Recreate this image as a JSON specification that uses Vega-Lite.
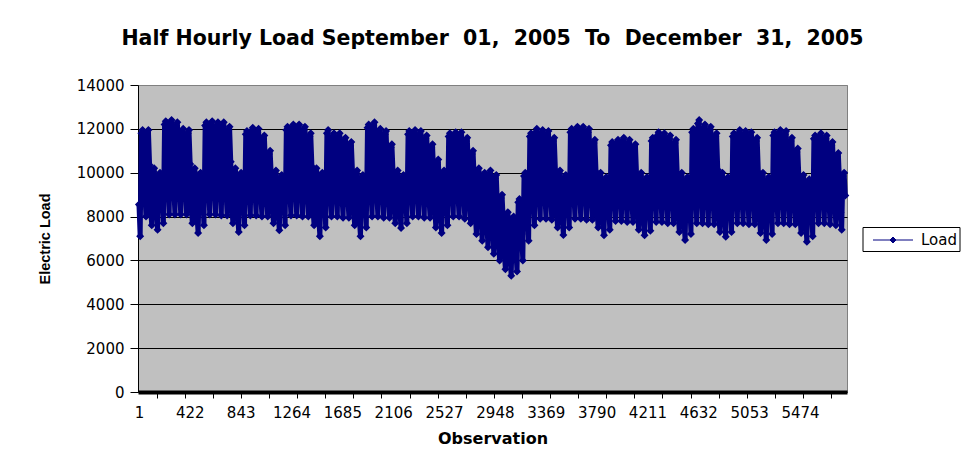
{
  "$schema": "https://vega.github.io/schema/vega-lite/v6.json",
  "width": 709,
  "height": 307,
  "autosize": "none",
  "padding": {"left": 138, "top": 85, "right": 118, "bottom": 66},
  "background": "#ffffff",
  "title": {
    "text": "Half Hourly Load September\u00a0 01,\u00a0 2005\u00a0 To\u00a0 December\u00a0 31,\u00a0 2005",
    "font": "DejaVu Sans",
    "fontSize": 20.5,
    "fontWeight": "bold",
    "color": "#000000",
    "anchor": "middle",
    "offset": 29
  },
  "config": {
    "view": {"fill": "#C0C0C0", "stroke": "#808080", "strokeWidth": 1}
  },
  "data": {
    "values": [
      {"obs":1,"load":8550},{"obs":11,"load":7100},{"obs":21,"load":11800},{"obs":31,"load":11950},{"obs":41,"load":10000},
      {"obs":49,"load":9200},{"obs":59,"load":8000},{"obs":69,"load":11800},{"obs":79,"load":11950},{"obs":89,"load":10350},
      {"obs":97,"load":8400},{"obs":107,"load":7600},{"obs":117,"load":10050},{"obs":127,"load":10200},{"obs":137,"load":9150},
      {"obs":145,"load":8200},{"obs":155,"load":7400},{"obs":165,"load":9850},{"obs":175,"load":10000},{"obs":185,"load":8950},
      {"obs":193,"load":9100},{"obs":203,"load":7700},{"obs":213,"load":12200},{"obs":223,"load":12350},{"obs":233,"load":10500},
      {"obs":241,"load":9400},{"obs":251,"load":8100},{"obs":261,"load":12250},{"obs":271,"load":12400},{"obs":281,"load":10700},
      {"obs":289,"load":9350},{"obs":299,"load":8100},{"obs":309,"load":12150},{"obs":319,"load":12300},{"obs":329,"load":10600},
      {"obs":337,"load":9250},{"obs":347,"load":8100},{"obs":357,"load":11850},{"obs":367,"load":12000},{"obs":377,"load":10450},
      {"obs":385,"load":9250},{"obs":395,"load":8100},{"obs":405,"load":11800},{"obs":415,"load":11950},{"obs":425,"load":10400},
      {"obs":433,"load":8450},{"obs":443,"load":7700},{"obs":453,"load":10050},{"obs":463,"load":10200},{"obs":473,"load":9200},
      {"obs":481,"load":8050},{"obs":491,"load":7250},{"obs":501,"load":9850},{"obs":511,"load":10000},{"obs":521,"load":8900},
      {"obs":529,"load":9000},{"obs":539,"load":7600},{"obs":549,"load":12150},{"obs":559,"load":12300},{"obs":569,"load":10400},
      {"obs":577,"load":9350},{"obs":587,"load":8100},{"obs":597,"load":12200},{"obs":607,"load":12350},{"obs":617,"load":10650},
      {"obs":625,"load":9350},{"obs":635,"load":8100},{"obs":645,"load":12150},{"obs":655,"load":12300},{"obs":665,"load":10600},
      {"obs":673,"load":9300},{"obs":683,"load":8050},{"obs":693,"load":12150},{"obs":703,"load":12300},{"obs":713,"load":10600},
      {"obs":721,"load":9250},{"obs":731,"load":8050},{"obs":741,"load":11950},{"obs":751,"load":12100},{"obs":761,"load":10500},
      {"obs":769,"load":8450},{"obs":779,"load":7700},{"obs":789,"load":10050},{"obs":799,"load":10200},{"obs":809,"load":9200},
      {"obs":817,"load":8100},{"obs":827,"load":7300},{"obs":837,"load":9850},{"obs":847,"load":10000},{"obs":857,"load":8900},
      {"obs":865,"load":8900},{"obs":875,"load":7600},{"obs":885,"load":11750},{"obs":895,"load":11900},{"obs":905,"load":10200},
      {"obs":913,"load":9250},{"obs":923,"load":8050},{"obs":933,"load":11900},{"obs":943,"load":12050},{"obs":953,"load":10450},
      {"obs":961,"load":9250},{"obs":971,"load":8050},{"obs":981,"load":11850},{"obs":991,"load":12000},{"obs":1001,"load":10400},
      {"obs":1009,"load":9100},{"obs":1019,"load":8000},{"obs":1029,"load":11550},{"obs":1039,"load":11700},{"obs":1049,"load":10200},
      {"obs":1057,"load":8900},{"obs":1067,"load":8000},{"obs":1077,"load":10850},{"obs":1087,"load":11000},{"obs":1097,"load":9800},
      {"obs":1105,"load":8400},{"obs":1115,"load":7700},{"obs":1125,"load":9950},{"obs":1135,"load":10100},{"obs":1145,"load":9150},
      {"obs":1153,"load":8150},{"obs":1163,"load":7380},{"obs":1173,"load":9750},{"obs":1183,"load":9900},{"obs":1193,"load":8890},
      {"obs":1201,"load":8950},{"obs":1211,"load":7600},{"obs":1221,"load":11950},{"obs":1231,"load":12100},{"obs":1241,"load":10300},
      {"obs":1249,"load":9300},{"obs":1259,"load":8050},{"obs":1269,"load":12050},{"obs":1279,"load":12200},{"obs":1289,"load":10550},
      {"obs":1297,"load":9300},{"obs":1307,"load":8050},{"obs":1317,"load":12050},{"obs":1327,"load":12200},{"obs":1337,"load":10550},
      {"obs":1345,"load":9230},{"obs":1355,"load":8000},{"obs":1365,"load":11950},{"obs":1375,"load":12100},{"obs":1385,"load":10450},
      {"obs":1393,"load":9140},{"obs":1403,"load":8000},{"obs":1413,"load":11650},{"obs":1423,"load":11800},{"obs":1433,"load":10280},
      {"obs":1441,"load":8380},{"obs":1451,"load":7600},{"obs":1461,"load":10050},{"obs":1471,"load":10200},{"obs":1481,"load":9160},
      {"obs":1489,"load":7970},{"obs":1499,"load":7100},{"obs":1509,"load":9850},{"obs":1519,"load":10000},{"obs":1529,"load":8840},
      {"obs":1537,"load":8840},{"obs":1547,"load":7500},{"obs":1557,"load":11800},{"obs":1567,"load":11950},{"obs":1577,"load":10170},
      {"obs":1585,"load":9140},{"obs":1595,"load":8000},{"obs":1605,"load":11650},{"obs":1615,"load":11800},{"obs":1625,"load":10280},
      {"obs":1633,"load":9140},{"obs":1643,"load":8000},{"obs":1653,"load":11650},{"obs":1663,"load":11800},{"obs":1673,"load":10280},
      {"obs":1681,"load":9050},{"obs":1691,"load":7950},{"obs":1701,"load":11450},{"obs":1711,"load":11600},{"obs":1721,"load":10140},
      {"obs":1729,"load":8985},{"obs":1739,"load":7950},{"obs":1749,"load":11250},{"obs":1759,"load":11400},{"obs":1769,"load":10020},
      {"obs":1777,"load":8350},{"obs":1787,"load":7600},{"obs":1797,"load":9950},{"obs":1807,"load":10100},{"obs":1817,"load":9100},
      {"obs":1825,"load":7940},{"obs":1835,"load":7100},{"obs":1845,"load":9750},{"obs":1855,"load":9900},{"obs":1865,"load":8780},
      {"obs":1873,"load":8910},{"obs":1883,"load":7500},{"obs":1893,"load":12050},{"obs":1903,"load":12200},{"obs":1913,"load":10320},
      {"obs":1921,"load":9290},{"obs":1931,"load":8000},{"obs":1941,"load":12150},{"obs":1951,"load":12300},{"obs":1961,"load":10580},
      {"obs":1969,"load":9200},{"obs":1979,"load":8000},{"obs":1989,"load":11850},{"obs":1999,"load":12000},{"obs":2009,"load":10400},
      {"obs":2017,"load":9135},{"obs":2027,"load":7950},{"obs":2037,"load":11750},{"obs":2047,"load":11900},{"obs":2057,"load":10320},
      {"obs":2065,"load":8955},{"obs":2075,"load":7950},{"obs":2085,"load":11150},{"obs":2095,"load":11300},{"obs":2105,"load":9960},
      {"obs":2113,"load":8420},{"obs":2123,"load":7700},{"obs":2133,"load":9950},{"obs":2143,"load":10100},{"obs":2153,"load":9140},
      {"obs":2161,"load":8205},{"obs":2171,"load":7480},{"obs":2181,"load":9750},{"obs":2191,"load":9900},{"obs":2201,"load":8930},
      {"obs":2209,"load":8960},{"obs":2219,"load":7700},{"obs":2229,"load":11750},{"obs":2239,"load":11900},{"obs":2249,"load":10220},
      {"obs":2257,"load":9185},{"obs":2267,"load":8000},{"obs":2277,"load":11800},{"obs":2287,"load":11950},{"obs":2297,"load":10370},
      {"obs":2305,"load":9170},{"obs":2315,"load":8000},{"obs":2325,"load":11750},{"obs":2335,"load":11900},{"obs":2345,"load":10340},
      {"obs":2353,"load":9075},{"obs":2363,"load":7950},{"obs":2373,"load":11550},{"obs":2383,"load":11700},{"obs":2393,"load":10200},
      {"obs":2401,"load":8955},{"obs":2411,"load":7950},{"obs":2421,"load":11150},{"obs":2431,"load":11300},{"obs":2441,"load":9960},
      {"obs":2449,"load":8430},{"obs":2459,"load":7500},{"obs":2469,"load":10450},{"obs":2479,"load":10600},{"obs":2489,"load":9360},
      {"obs":2497,"load":8105},{"obs":2507,"load":7250},{"obs":2517,"load":9950},{"obs":2527,"load":10100},{"obs":2537,"load":8960},
      {"obs":2545,"load":8860},{"obs":2555,"load":7600},{"obs":2565,"load":11650},{"obs":2575,"load":11800},{"obs":2585,"load":10120},
      {"obs":2593,"load":9155},{"obs":2603,"load":8000},{"obs":2613,"load":11700},{"obs":2623,"load":11850},{"obs":2633,"load":10310},
      {"obs":2641,"load":9155},{"obs":2651,"load":8000},{"obs":2661,"load":11700},{"obs":2671,"load":11850},{"obs":2681,"load":10310},
      {"obs":2689,"load":9010},{"obs":2699,"load":7900},{"obs":2709,"load":11450},{"obs":2719,"load":11600},{"obs":2729,"load":10120},
      {"obs":2737,"load":8690},{"obs":2747,"load":7700},{"obs":2757,"load":10850},{"obs":2767,"load":11000},{"obs":2777,"load":9680},
      {"obs":2785,"load":8100},{"obs":2795,"load":7200},{"obs":2805,"load":10050},{"obs":2815,"load":10200},{"obs":2825,"load":9000},
      {"obs":2833,"load":7830},{"obs":2843,"load":6900},{"obs":2853,"load":9850},{"obs":2863,"load":10000},{"obs":2873,"load":8760},
      {"obs":2881,"load":7650},{"obs":2891,"load":6600},{"obs":2901,"load":9950},{"obs":2911,"load":10100},{"obs":2921,"load":8700},
      {"obs":2929,"load":7380},{"obs":2939,"load":6300},{"obs":2949,"load":9750},{"obs":2959,"load":9900},{"obs":2969,"load":8460},
      {"obs":2977,"load":6900},{"obs":2987,"load":6000},{"obs":2997,"load":8850},{"obs":3007,"load":9000},{"obs":3017,"load":7800},
      {"obs":3025,"load":6380},{"obs":3035,"load":5600},{"obs":3045,"load":8050},{"obs":3055,"load":8200},{"obs":3065,"load":7160},
      {"obs":3073,"load":6110},{"obs":3083,"load":5300},{"obs":3093,"load":7850},{"obs":3103,"load":8000},{"obs":3113,"load":6920},
      {"obs":3121,"load":6490},{"obs":3131,"load":5500},{"obs":3141,"load":8650},{"obs":3151,"load":8800},{"obs":3161,"load":7480},
      {"obs":3169,"load":7200},{"obs":3179,"load":6000},{"obs":3189,"load":9850},{"obs":3199,"load":10000},{"obs":3209,"load":8400},
      {"obs":3217,"load":8370},{"obs":3227,"load":6900},{"obs":3237,"load":11650},{"obs":3247,"load":11800},{"obs":3257,"load":9840},
      {"obs":3265,"load":8920},{"obs":3275,"load":7600},{"obs":3285,"load":11850},{"obs":3295,"load":12000},{"obs":3305,"load":10240},
      {"obs":3313,"load":9115},{"obs":3323,"load":7900},{"obs":3333,"load":11800},{"obs":3343,"load":11950},{"obs":3353,"load":10330},
      {"obs":3361,"load":9100},{"obs":3371,"load":7900},{"obs":3381,"load":11750},{"obs":3391,"load":11900},{"obs":3401,"load":10300},
      {"obs":3409,"load":8975},{"obs":3419,"load":7850},{"obs":3429,"load":11450},{"obs":3439,"load":11600},{"obs":3449,"load":10100},
      {"obs":3457,"load":8280},{"obs":3467,"load":7500},{"obs":3477,"load":9950},{"obs":3487,"load":10100},{"obs":3497,"load":9060},
      {"obs":3505,"load":7980},{"obs":3515,"load":7160},{"obs":3525,"load":9750},{"obs":3535,"load":9900},{"obs":3545,"load":8800},
      {"obs":3553,"load":8850},{"obs":3563,"load":7500},{"obs":3573,"load":11850},{"obs":3583,"load":12000},{"obs":3593,"load":10200},
      {"obs":3601,"load":9160},{"obs":3611,"load":7900},{"obs":3621,"load":11950},{"obs":3631,"load":12100},{"obs":3641,"load":10420},
      {"obs":3649,"load":9160},{"obs":3659,"load":7900},{"obs":3669,"load":11950},{"obs":3679,"load":12100},{"obs":3689,"load":10420},
      {"obs":3697,"load":9095},{"obs":3707,"load":7850},{"obs":3717,"load":11850},{"obs":3727,"load":12000},{"obs":3737,"load":10340},
      {"obs":3745,"load":8945},{"obs":3755,"load":7850},{"obs":3765,"load":11350},{"obs":3775,"load":11500},{"obs":3785,"load":10040},
      {"obs":3793,"load":8250},{"obs":3803,"load":7500},{"obs":3813,"load":9850},{"obs":3823,"load":10000},{"obs":3833,"load":9000},
      {"obs":3841,"load":7945},{"obs":3851,"load":7150},{"obs":3861,"load":9650},{"obs":3871,"load":9800},{"obs":3881,"load":8740},
      {"obs":3889,"load":8600},{"obs":3899,"load":7400},{"obs":3909,"load":11250},{"obs":3919,"load":11400},{"obs":3929,"load":9800},
      {"obs":3937,"load":8910},{"obs":3947,"load":7800},{"obs":3957,"load":11350},{"obs":3967,"load":11500},{"obs":3977,"load":10020},
      {"obs":3985,"load":8940},{"obs":3995,"load":7800},{"obs":4005,"load":11450},{"obs":4015,"load":11600},{"obs":4025,"load":10080},
      {"obs":4033,"load":8875},{"obs":4043,"load":7750},{"obs":4053,"load":11350},{"obs":4063,"load":11500},{"obs":4073,"load":10000},
      {"obs":4081,"load":8815},{"obs":4091,"load":7750},{"obs":4101,"load":11150},{"obs":4111,"load":11300},{"obs":4121,"load":9880},
      {"obs":4129,"load":8180},{"obs":4139,"load":7400},{"obs":4149,"load":9850},{"obs":4159,"load":10000},{"obs":4169,"load":8960},
      {"obs":4177,"load":7945},{"obs":4187,"load":7150},{"obs":4197,"load":9650},{"obs":4207,"load":9800},{"obs":4217,"load":8740},
      {"obs":4225,"load":8625},{"obs":4235,"load":7350},{"obs":4245,"load":11450},{"obs":4255,"load":11600},{"obs":4265,"load":9900},
      {"obs":4273,"load":8980},{"obs":4283,"load":7750},{"obs":4293,"load":11700},{"obs":4303,"load":11850},{"obs":4313,"load":10210},
      {"obs":4321,"load":8965},{"obs":4331,"load":7750},{"obs":4341,"load":11650},{"obs":4351,"load":11800},{"obs":4361,"load":10180},
      {"obs":4369,"load":8900},{"obs":4379,"load":7700},{"obs":4389,"load":11550},{"obs":4399,"load":11700},{"obs":4409,"load":10100},
      {"obs":4417,"load":8840},{"obs":4427,"load":7700},{"obs":4437,"load":11350},{"obs":4447,"load":11500},{"obs":4457,"load":9980},
      {"obs":4465,"load":8110},{"obs":4475,"load":7300},{"obs":4485,"load":9850},{"obs":4495,"load":10000},{"obs":4505,"load":8920},
      {"obs":4513,"load":7790},{"obs":4523,"load":6930},{"obs":4533,"load":9650},{"obs":4543,"load":9800},{"obs":4553,"load":8650},
      {"obs":4561,"load":8640},{"obs":4571,"load":7200},{"obs":4581,"load":11850},{"obs":4591,"load":12000},{"obs":4601,"load":10080},
      {"obs":4609,"load":9110},{"obs":4619,"load":7700},{"obs":4629,"load":12250},{"obs":4639,"load":12400},{"obs":4649,"load":10520},
      {"obs":4657,"load":9050},{"obs":4667,"load":7700},{"obs":4677,"load":12050},{"obs":4687,"load":12200},{"obs":4697,"load":10400},
      {"obs":4705,"load":8985},{"obs":4715,"load":7650},{"obs":4725,"load":11950},{"obs":4735,"load":12100},{"obs":4745,"load":10320},
      {"obs":4753,"load":8895},{"obs":4763,"load":7650},{"obs":4773,"load":11650},{"obs":4783,"load":11800},{"obs":4793,"load":10140},
      {"obs":4801,"load":8110},{"obs":4811,"load":7300},{"obs":4821,"load":9850},{"obs":4831,"load":10000},{"obs":4841,"load":8920},
      {"obs":4849,"load":7900},{"obs":4859,"load":7080},{"obs":4869,"load":9650},{"obs":4879,"load":9800},{"obs":4889,"load":8710},
      {"obs":4897,"load":8650},{"obs":4907,"load":7300},{"obs":4917,"load":11650},{"obs":4927,"load":11800},{"obs":4937,"load":10000},
      {"obs":4945,"load":8975},{"obs":4955,"load":7700},{"obs":4965,"load":11800},{"obs":4975,"load":11950},{"obs":4985,"load":10250},
      {"obs":4993,"load":8960},{"obs":5003,"load":7700},{"obs":5013,"load":11750},{"obs":5023,"load":11900},{"obs":5033,"load":10220},
      {"obs":5041,"load":8910},{"obs":5051,"load":7650},{"obs":5061,"load":11700},{"obs":5071,"load":11850},{"obs":5081,"load":10170},
      {"obs":5089,"load":8835},{"obs":5099,"load":7650},{"obs":5109,"load":11450},{"obs":5119,"load":11600},{"obs":5129,"load":10020},
      {"obs":5137,"load":8075},{"obs":5147,"load":7250},{"obs":5157,"load":9850},{"obs":5167,"load":10000},{"obs":5177,"load":8900},
      {"obs":5185,"load":7790},{"obs":5195,"load":6930},{"obs":5205,"load":9650},{"obs":5215,"load":9800},{"obs":5225,"load":8650},
      {"obs":5233,"load":8595},{"obs":5243,"load":7200},{"obs":5253,"load":11700},{"obs":5263,"load":11850},{"obs":5273,"load":9990},
      {"obs":5281,"load":8975},{"obs":5291,"load":7700},{"obs":5301,"load":11800},{"obs":5311,"load":11950},{"obs":5321,"load":10250},
      {"obs":5329,"load":8960},{"obs":5339,"load":7700},{"obs":5349,"load":11750},{"obs":5359,"load":11900},{"obs":5369,"load":10220},
      {"obs":5377,"load":8835},{"obs":5387,"load":7650},{"obs":5397,"load":11450},{"obs":5407,"load":11600},{"obs":5417,"load":10020},
      {"obs":5425,"load":8685},{"obs":5435,"load":7650},{"obs":5445,"load":10950},{"obs":5455,"load":11100},{"obs":5465,"load":9720},
      {"obs":5473,"load":8045},{"obs":5483,"load":7250},{"obs":5493,"load":9750},{"obs":5503,"load":9900},{"obs":5513,"load":8840},
      {"obs":5521,"load":7705},{"obs":5531,"load":6850},{"obs":5541,"load":9550},{"obs":5551,"load":9700},{"obs":5561,"load":8560},
      {"obs":5569,"load":8480},{"obs":5579,"load":7100},{"obs":5589,"load":11550},{"obs":5599,"load":11700},{"obs":5609,"load":9860},
      {"obs":5617,"load":8930},{"obs":5627,"load":7700},{"obs":5637,"load":11650},{"obs":5647,"load":11800},{"obs":5657,"load":10160},
      {"obs":5665,"load":8900},{"obs":5675,"load":7700},{"obs":5685,"load":11550},{"obs":5695,"load":11700},{"obs":5705,"load":10100},
      {"obs":5713,"load":8775},{"obs":5723,"load":7650},{"obs":5733,"load":11250},{"obs":5743,"load":11400},{"obs":5753,"load":9900},
      {"obs":5761,"load":8590},{"obs":5771,"load":7600},{"obs":5781,"load":10750},{"obs":5791,"load":10900},{"obs":5801,"load":9580},
      {"obs":5809,"load":8180},{"obs":5819,"load":7400},{"obs":5829,"load":9850},{"obs":5839,"load":10000},{"obs":5849,"load":8960}
    ]
  },
  "encoding": {
    "y": {
      "field": "load",
      "type": "quantitative",
      "scale": {"domain": [0, 14000], "nice": false, "zero": true},
      "axis": {
        "title": "Electric Load",
        "values": [0, 2000, 4000, 6000, 8000, 10000, 12000, 14000],
        "format": "d",
        "grid": true,
        "gridColor": {"condition": {"test": "datum.value >= 14000", "value": "#808080"}, "value": "#000000"},
        "gridWidth": 1,
        "gridOpacity": 1,
        "domain": true,
        "domainColor": "#000000",
        "domainWidth": 1,
        "ticks": true,
        "tickColor": "#000000",
        "tickSize": 8,
        "labelPadding": 6,
        "labelFont": "DejaVu Sans",
        "labelFontSize": 15,
        "labelColor": "#000000",
        "titleFont": "Liberation Sans",
        "titleFontSize": 14.5,
        "titleFontWeight": "bold",
        "titleColor": "#000000",
        "titlePadding": 24
      }
    }
  },
  "layer": [
    {
      "mark": {"type": "line", "strokeWidth": 5, "strokeJoin": "round", "strokeCap": "round", "clip": false},
      "encoding": {
        "x": {
          "field": "obs",
          "type": "quantitative",
          "scale": {"domain": [-7, 5863], "nice": false, "zero": false},
          "axis": {
            "orient": "bottom",
            "title": "Observation",
            "values": [1, 422, 843, 1264, 1685, 2106, 2527, 2948, 3369, 3790, 4211, 4632, 5053, 5474],
            "format": "d",
            "grid": false,
            "ticks": false,
            "domain": true,
            "domainColor": "#000000",
            "domainWidth": 4,
            "labelFont": "DejaVu Sans",
            "labelFontSize": 15,
            "labelColor": "#000000",
            "labelPadding": 13,
            "labelFlush": false,
            "labelOverlap": false,
            "titleFont": "DejaVu Sans",
            "titleFontSize": 16,
            "titleFontWeight": "bold",
            "titleColor": "#000000",
            "titlePadding": 10
          }
        },
        "color": {
          "datum": "Load",
          "type": "nominal",
          "scale": {"range": ["#000080"]},
          "legend": {
            "title": null,
            "orient": "none",
            "legendX": 724.5,
            "legendY": 142,
            "padding": 2.5,
            "strokeColor": "#000000",
            "fillColor": "#ffffff",
            "symbolType": "M-2,0H2M-0.3,0L0,-0.3L0.3,0L0,0.3Z",
            "symbolSize": 400,
            "symbolOffset": 17.5,
            "symbolStrokeWidth": 1,
            "labelOffset": 17.5,
            "labelFont": "DejaVu Sans",
            "labelFontSize": 15,
            "labelColor": "#000000",
            "encode": {
              "symbols": {
                "update": {
                  "fill": {"value": "#000080"},
                  "stroke": {"value": "#000080"},
                  "strokeWidth": {"value": 1},
                  "opacity": {"value": 1}
                }
              }
            }
          }
        }
      }
    },
    {
      "mark": {"type": "point", "shape": "diamond", "size": 64, "filled": true, "color": "#000080", "opacity": 1, "clip": false},
      "encoding": {
        "x": {
          "field": "obs",
          "type": "quantitative",
          "scale": {"domain": [-7, 5863], "nice": false, "zero": false},
          "axis": {
            "orient": "bottom",
            "title": null,
            "values": [148, 380, 613, 846, 1078, 1311, 1543, 1776, 2009, 2241, 2474, 2707, 2939, 3172, 3405, 3637, 3870, 4103, 4335, 4568, 4801, 5033, 5266, 5499, 5731],
            "labels": false,
            "grid": false,
            "domain": false,
            "ticks": true,
            "tickColor": "#000000",
            "tickWidth": 1,
            "tickSize": 6
          }
        }
      }
    }
  ],
  "resolve": {"scale": {"x": "independent"}, "axis": {"x": "independent"}}
}
